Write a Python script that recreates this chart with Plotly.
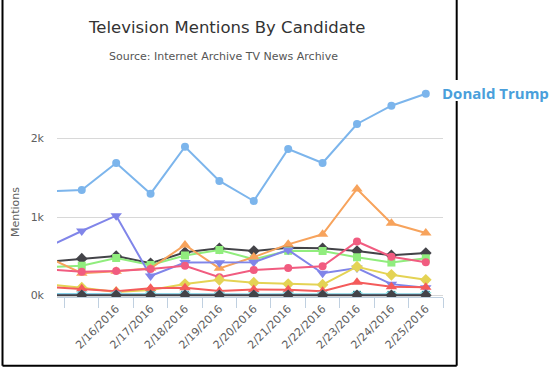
import plotly.graph_objects as go

dates = ["2/14/2016", "2/15/2016", "2/16/2016", "2/17/2016", "2/18/2016", "2/19/2016",
         "2/20/2016", "2/21/2016", "2/22/2016", "2/23/2016", "2/24/2016", "2/25/2016"]
tick_labels = ["2/14/2016", "", "2/16/2016", "2/17/2016", "2/18/2016", "2/19/2016",
               "2/20/2016", "2/21/2016", "2/22/2016", "2/23/2016", "2/24/2016", "2/25/2016"]

trump = [1325, 1345, 1688, 1297, 1896, 1459, 1204, 1866, 1688, 2185, 2418, 2570]
cand_b = [428, 469, 503, 410, 550, 601, 567, 609, 601, 567, 512, 541]
cand_c = [362, 380, 478, 389, 510, 580, 462, 569, 567, 487, 420, 474]
cand_d = [488, 285, 310, 346, 643, 346, 490, 652, 780, 1357, 920, 796]
cand_e = [615, 822, 1017, 248, 420, 418, 425, 580, 283, 350, 145, 98]
cand_f = [333, 303, 312, 338, 380, 232, 325, 350, 372, 688, 494, 423]
cand_g = [142, 100, 45, 70, 146, 200, 163, 146, 138, 367, 263, 200]
cand_h = [10, 8, 9, 8, 10, 9, 8, 9, 8, 9, 8, 9]
cand_i = [111, 85, 55, 92, 98, 57, 75, 72, 55, 170, 112, 104]
cand_j = [20, 18, 16, 15, 17, 15, 14, 16, 15, 14, 13, 12]
cand_k = [14, 12, 12, 11, 12, 11, 10, 11, 10, 11, 10, 10]
cand_l = [3, 2, 2, 2, 3, 2, 2, 2, 2, 2, 2, 2]

series = [
    ("Donald Trump", trump, "#7cb5ec", "circle", 8),
    ("Candidate B", cand_b, "#434348", "diamond", 9),
    ("Candidate C", cand_c, "#90ed7d", "square", 8),
    ("Candidate D", cand_d, "#f7a35c", "triangle-up", 10),
    ("Candidate E", cand_e, "#8085e9", "triangle-down", 10),
    ("Candidate F", cand_f, "#f15c80", "circle", 8),
    ("Candidate G", cand_g, "#e4d354", "diamond", 9),
    ("Candidate H", cand_h, "#2b908f", "square", 8),
    ("Candidate I", cand_i, "#f45b5b", "triangle-up", 10),
    ("Candidate J", cand_j, "#91e8e1", "triangle-down", 10),
    ("Candidate K", cand_k, "#7cb5ec", "circle", 8),
    ("Candidate L", cand_l, "#434348", "diamond", 9),
]

W, H = 552, 370
L, R, T, B = 57, 443, 75, 297

def px(x):
    return (x - L) / (R - L)

def py(y):
    return (B - y) / (B - T)

fig = go.Figure()
for name, vals, color, sym, size in series:
    fig.add_trace(go.Scatter(
        x=dates, y=vals, name=name, mode="lines+markers",
        line=dict(color=color, width=2),
        marker=dict(color=color, symbol=sym, size=size, line=dict(width=0)),
    ))

font = "DejaVu Sans"
fig.update_layout(
    width=W, height=H,
    margin=dict(l=L, r=W - R, t=T, b=H - B),
    paper_bgcolor="white", plot_bgcolor="white",
    showlegend=False,
    font=dict(family=font, color="#606060", size=11),
    xaxis=dict(
        type="category", categoryorder="array", categoryarray=dates,
        tickmode="array", tickvals=dates, ticktext=tick_labels,
        tickson="boundaries", ticks="outside", ticklen=10, tickcolor="#C0D0E0",
        showline=True, linecolor="#C0D0E0", linewidth=1,
        showgrid=False, zeroline=False,
        range=[0.28, 11.5], tickangle=-45,
        tickfont=dict(family=font, size=11, color="#606060"),
    ),
    yaxis=dict(
        range=[-19, 2809], tickvals=[0, 1000, 2000], ticktext=["0k", "1k", "2k"],
        showgrid=True, gridcolor="#D8D8D8", gridwidth=1, zeroline=False,
        showline=False, ticks="", ticklabelstandoff=12,
        tickfont=dict(family=font, size=11, color="#606060"),
    ),
)

annotations = [
    dict(text="Television Mentions By Candidate", x=px(226), y=py(27),
         font=dict(family=font, size=16.5, color="#333333")),
    dict(text="Source: Internet Archive TV News Archive", x=px(223), y=py(57),
         font=dict(family=font, size=11, color="#555555")),
    dict(text="Mentions", x=px(15), y=py(212), textangle=-90,
         font=dict(family=font, size=11, color="#606060")),
    dict(text="<b>Donald Trump</b>", x=px(495), y=py(93),
         font=dict(family="Open Sans", size=15, color="#4A9FDB")),
]
for a in annotations:
    a.update(xref="paper", yref="paper", showarrow=False, xanchor="center", yanchor="middle")
fig.update_layout(annotations=annotations)

border = dict(type="line", xref="paper", yref="paper", line=dict(color="black", width=2), layer="above")
fig.update_layout(shapes=[
    dict(border, x0=px(2.5), x1=px(2.5), y0=py(0), y1=py(365.7)),
    dict(border, x0=px(2.5), x1=px(456.7), y0=py(365.7), y1=py(365.7)),
    dict(border, x0=px(456.7), x1=px(456.7), y0=py(365.7), y1=py(101)),
    dict(border, x0=px(456.7), x1=px(456.7), y0=py(80), y1=py(0)),
])

fig.write_html("out.html", config={"displayModeBar": False},
               post_script="document.body.style.margin='0px';")
